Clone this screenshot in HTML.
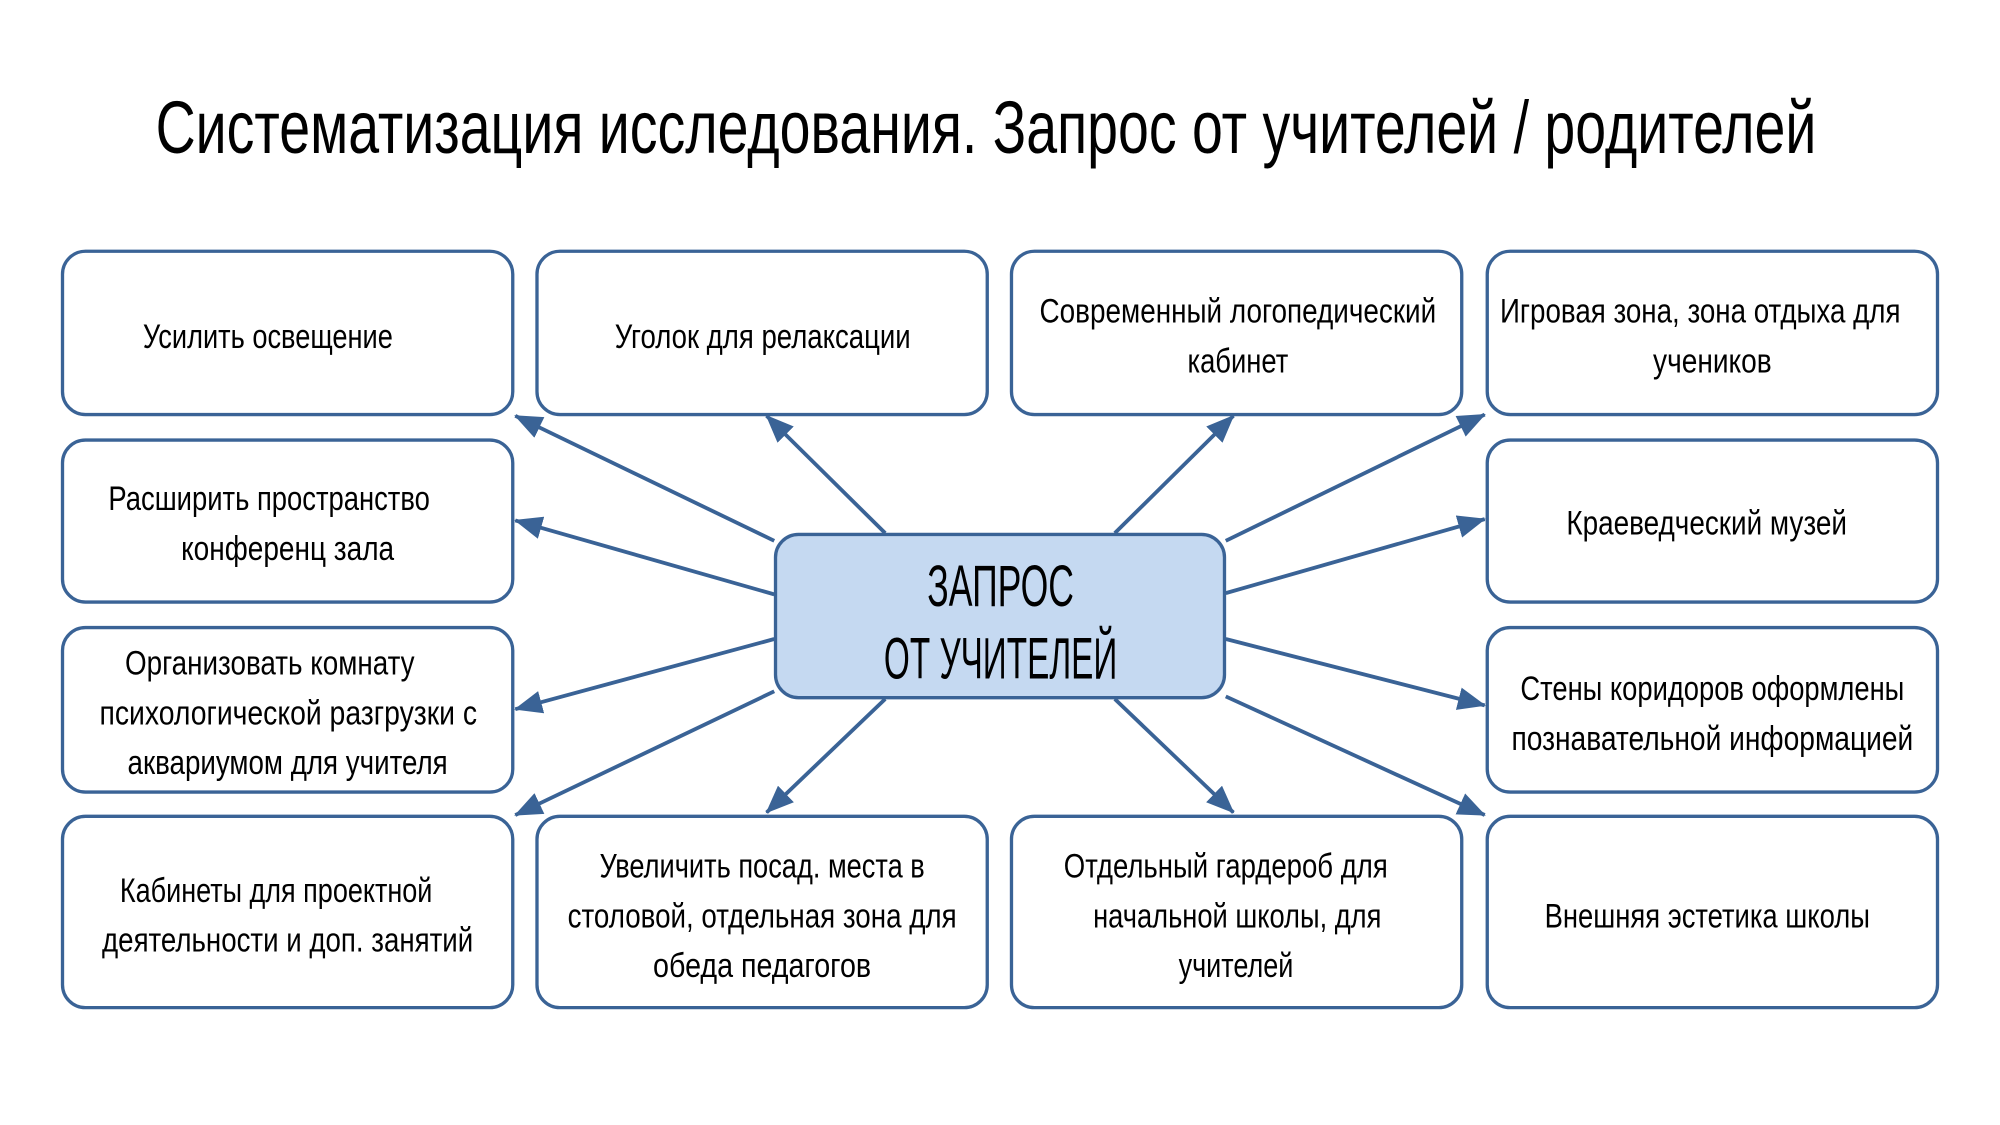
<!DOCTYPE html>
<html><head><meta charset="utf-8"><style>
html,body{margin:0;padding:0;background:#fff;}
svg{display:block;}
text{font-family:"Liberation Sans","DejaVu Sans",sans-serif;fill:#000;}
</style></head><body>
<svg width="2000" height="1125" viewBox="0 0 1568 882" xmlns="http://www.w3.org/2000/svg">
<defs>
<marker id="a" viewBox="0 0 22 18" refX="21" refY="9" markerWidth="22" markerHeight="18" markerUnits="userSpaceOnUse" orient="auto">
<path d="M0,0 L22,9 L0,18 z" fill="#3a6396"/>
</marker>
</defs>
<text x="773" y="120" font-size="58" textLength="1302" lengthAdjust="spacingAndGlyphs" text-anchor="middle">Систематизация исследования. Запрос от учителей / родителей</text>

<g fill="#fff" stroke="#3a6396" stroke-width="2.6">
<rect x="49" y="197" width="353" height="128" rx="18"/>
<rect x="421" y="197" width="353" height="128" rx="18"/>
<rect x="793" y="197" width="353" height="128" rx="18"/>
<rect x="1166" y="197" width="353" height="128" rx="18"/>
<rect x="49" y="345" width="353" height="127" rx="18"/>
<rect x="1166" y="345" width="353" height="127" rx="18"/>
<rect x="49" y="492" width="353" height="129" rx="18"/>
<rect x="1166" y="492" width="353" height="129" rx="18"/>
<rect x="49" y="640" width="353" height="150" rx="18"/>
<rect x="421" y="640" width="353" height="150" rx="18"/>
<rect x="793" y="640" width="353" height="150" rx="18"/>
<rect x="1166" y="640" width="353" height="150" rx="18"/>
<rect x="608" y="419" width="352" height="128" rx="18" fill="#c5d9f1"/>
</g>

<g stroke="#3a6396" stroke-width="3" fill="none">
<line x1="607" y1="424" x2="404" y2="326" marker-end="url(#a)"/>
<line x1="694" y1="418" x2="601" y2="326" marker-end="url(#a)"/>
<line x1="874" y1="418" x2="967" y2="326" marker-end="url(#a)"/>
<line x1="961" y1="424" x2="1164" y2="325" marker-end="url(#a)"/>
<line x1="607" y1="466" x2="404" y2="408" marker-end="url(#a)"/>
<line x1="961" y1="465" x2="1164" y2="407" marker-end="url(#a)"/>
<line x1="607" y1="501" x2="404" y2="556" marker-end="url(#a)"/>
<line x1="961" y1="501" x2="1164" y2="553" marker-end="url(#a)"/>
<line x1="607" y1="542" x2="404" y2="639" marker-end="url(#a)"/>
<line x1="694" y1="548" x2="601" y2="637" marker-end="url(#a)"/>
<line x1="874" y1="548" x2="967" y2="637" marker-end="url(#a)"/>
<line x1="961" y1="546" x2="1164" y2="639" marker-end="url(#a)"/>
</g>

<g font-size="27">
<text x="112" y="273" textLength="196" lengthAdjust="spacingAndGlyphs">Усилить освещение</text>
<text x="482" y="273" textLength="232" lengthAdjust="spacingAndGlyphs">Уголок для релаксации</text>
<text x="815" y="253" textLength="311" lengthAdjust="spacingAndGlyphs">Современный логопедический</text>
<text x="931" y="292" textLength="79" lengthAdjust="spacingAndGlyphs">кабинет</text>
<text x="1176" y="253" textLength="314" lengthAdjust="spacingAndGlyphs">Игровая зона, зона отдыха для</text>
<text x="1296" y="292" textLength="93" lengthAdjust="spacingAndGlyphs">учеников</text>
<text x="85" y="400" textLength="252" lengthAdjust="spacingAndGlyphs">Расширить пространство</text>
<text x="142" y="439" textLength="167" lengthAdjust="spacingAndGlyphs">конференц зала</text>
<text x="1228" y="419" textLength="220" lengthAdjust="spacingAndGlyphs">Краеведческий музей</text>
<text x="98" y="529" textLength="227" lengthAdjust="spacingAndGlyphs">Организовать комнату</text>
<text x="78" y="568" textLength="296" lengthAdjust="spacingAndGlyphs">психологической разгрузки с</text>
<text x="100" y="607" textLength="251" lengthAdjust="spacingAndGlyphs">аквариумом для учителя</text>
<text x="1192" y="549" textLength="301" lengthAdjust="spacingAndGlyphs">Стены коридоров оформлены</text>
<text x="1185" y="588" textLength="315" lengthAdjust="spacingAndGlyphs">познавательной информацией</text>
<text x="94" y="707" textLength="245" lengthAdjust="spacingAndGlyphs">Кабинеты для проектной</text>
<text x="80" y="746" textLength="291" lengthAdjust="spacingAndGlyphs">деятельности и доп. занятий</text>
<text x="470" y="688" textLength="255" lengthAdjust="spacingAndGlyphs">Увеличить посад. места в</text>
<text x="445" y="727" textLength="305" lengthAdjust="spacingAndGlyphs">столовой, отдельная зона для</text>
<text x="512" y="766" textLength="171" lengthAdjust="spacingAndGlyphs">обеда педагогов</text>
<text x="834" y="688" textLength="254" lengthAdjust="spacingAndGlyphs">Отдельный гардероб для</text>
<text x="857" y="727" textLength="226" lengthAdjust="spacingAndGlyphs">начальной школы, для</text>
<text x="924" y="766" textLength="90" lengthAdjust="spacingAndGlyphs">учителей</text>
<text x="1211" y="727" textLength="255" lengthAdjust="spacingAndGlyphs">Внешняя эстетика школы</text>
</g>
<g font-size="46">
<text x="727" y="475" textLength="115" lengthAdjust="spacingAndGlyphs">ЗАПРОС</text>
<text x="693" y="532" textLength="183" lengthAdjust="spacingAndGlyphs">ОТ УЧИТЕЛЕЙ</text>
</g>
</svg>
</body></html>
